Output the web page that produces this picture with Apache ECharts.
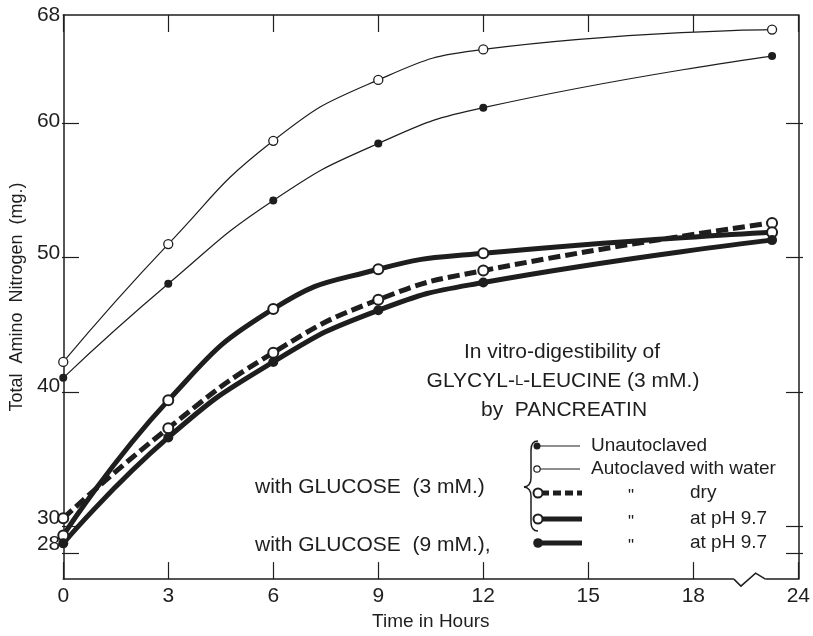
<!DOCTYPE html>
<html>
<head>
<meta charset="utf-8">
<script src="https://cdn.jsdelivr.net/npm/echarts@6/dist/echarts.min.js"></script>
<style>
  html, body { margin: 0; padding: 0; background: #fff; }
  #chart { width: 813px; height: 636px; }
</style>
</head>
<body>
<div id="chart"></div>
<script>
// sampling times (hours); the axis is broken between 18 and 24
var hours = [0, 3, 6, 9, 12, 22.5];
var unautoclaved = [40.6, 47.7, 54.0, 58.3, 61.0, 64.9];
var autoWater = [41.8, 50.7, 58.5, 63.1, 65.4, 66.9];
var autoDry = [30.0, 36.8, 42.5, 46.5, 48.7, 52.3];
var autoPh3 = [28.7, 38.9, 45.8, 48.8, 50.0, 51.6];
var autoPh9 = [28.1, 36.1, 41.8, 45.7, 47.8, 51.0];

var yLabels = [28, 30, 40, 50, 60, 68];
var yTicks = [28, 30, 40, 50, 60];
var yMin = 25.4, yMax = 68, xMax = 21;

// 18..24 h is squeezed into 18..21 on the drawn axis
function toAxis(h) { return h <= 18 ? h : 18 + (h - 18) / 2; }
function pts(vals) { return hours.map(function (h, i) { return [toAxis(h), vals[i]]; }); }

var ink = '#1e1e1e';
var font = 'Liberation Sans';
var tickLen = 17;
var G = { left: 62, top: 15, right: 10, bottom: 48 };

var mycharts = echarts.init(document.getElementById('chart'));

var thin = { color: ink, width: 1.2 };
var thick = { color: ink, width: 5 };

function brace(x1, y1, cx, cy, x2, y2) {
  return { type: 'bezierCurve', shape: { x1: x1, y1: y1, cpx1: cx, cpy1: cy, x2: x2, y2: y2 }, style: { stroke: ink, lineWidth: 1.5, fill: null } };
}
function seg(x1, y1, x2, y2, w, dash) {
  return { type: 'line', shape: { x1: x1, y1: y1, x2: x2, y2: y2 }, style: { stroke: ink, lineWidth: w, lineDash: dash || null } };
}
function label(x, y, text, size, align) {
  return { type: 'text', x: x, y: y, style: { text: text, font: size + 'px ' + font, fill: ink, align: align || 'left', verticalAlign: 'middle' } };
}

var xAxisBase = {
  type: 'value', min: 0, max: xMax, interval: 3,
  axisLine: { onZero: false, lineStyle: { color: ink, width: 1.5 } },
  axisTick: { show: true, inside: true, length: tickLen, lineStyle: { color: ink, width: 1.2 } },
  splitLine: { show: false }
};

var option = {
  backgroundColor: '#fff',
  animation: false,
  textStyle: { fontFamily: font, color: ink },
  grid: G,
  xAxis: [
    Object.assign({}, xAxisBase, {
      position: 'bottom',
      name: 'Time in Hours', nameLocation: 'middle', nameGap: 26,
      nameTextStyle: { fontSize: 19, color: ink, fontFamily: font },
      axisLabel: {
        fontSize: 21, color: ink, margin: 7, fontFamily: font,
        formatter: function (v) { return v === 21 ? '24' : String(v); }
      }
    }),
    Object.assign({}, xAxisBase, { position: 'top', axisLabel: { show: false } })
  ],
  yAxis: [{
    type: 'value', min: yMin, max: yMax, position: 'left',
    name: 'Total  Amino  Nitrogen  (mg.)', nameLocation: 'middle', nameGap: 34, nameRotate: 90,
    nameTextStyle: { fontSize: 18, color: ink, fontFamily: font },
    axisLine: { show: true, onZero: false, lineStyle: { color: ink, width: 1.5 } },
    axisTick: { show: false },
    axisLabel: { customValues: yLabels, fontSize: 21, color: ink, margin: 3, fontFamily: font },
    splitLine: { show: false }
  }, {
    type: 'value', min: yMin, max: yMax, position: 'right',
    axisLine: { show: true, onZero: false, lineStyle: { color: ink, width: 1.5 } },
    axisTick: { show: false },
    axisLabel: { show: false },
    splitLine: { show: false }
  }],
  series: [
    {
      name: 'Autoclaved with water', type: 'line', smooth: 0.5,
      data: pts(autoWater), lineStyle: thin,
      symbol: 'circle', symbolSize: 9, itemStyle: { color: '#fff', borderColor: ink, borderWidth: 1.3 }, z: 3
    },
    {
      name: 'Unautoclaved', type: 'line', smooth: 0.5,
      data: pts(unautoclaved), lineStyle: thin,
      symbol: 'circle', symbolSize: 8, itemStyle: { color: ink }, z: 3
    },
    {
      name: 'dry', type: 'line', smooth: 0.5,
      data: pts(autoDry), lineStyle: { color: ink, width: 5, type: [12, 5] },
      symbol: 'circle', symbolSize: 10, itemStyle: { color: '#fff', borderColor: ink, borderWidth: 2 }, z: 4
    },
    {
      name: 'at pH 9.7 (3 mM)', type: 'line', smooth: 0.5,
      data: pts(autoPh3), lineStyle: thick,
      symbol: 'circle', symbolSize: 10, itemStyle: { color: '#fff', borderColor: ink, borderWidth: 2 }, z: 4
    },
    {
      name: 'at pH 9.7 (9 mM)', type: 'line', smooth: 0.5,
      data: pts(autoPh9), lineStyle: thick,
      symbol: 'circle', symbolSize: 10, itemStyle: { color: ink }, z: 4
    },
    {
      // zigzag axis break drawn on the bottom axis
      type: 'custom', clip: false, silent: true, z: 5,
      data: [[19.16]],
      renderItem: function (params, api) {
        var a = api.coord([19.16, yMin]);
        var b = api.coord([19.36, yMin]);
        var c = api.coord([19.78, yMin]);
        var d = api.coord([20.06, yMin]);
        return {
          type: 'group',
          children: [
            { type: 'line', shape: { x1: a[0], y1: a[1], x2: d[0], y2: d[1] }, style: { stroke: '#fff', lineWidth: 4 } },
            { type: 'polyline', shape: { points: [a, [b[0], b[1] + 7], [c[0], c[1] - 6], d] },
              style: { stroke: ink, lineWidth: 1.5, fill: null } }
          ]
        };
      }
    }
  ]
};
mycharts.setOption(option);

// y ticks on both sides of the frame, from the grid box and the y range
var plotH = 636 - G.top - G.bottom;
var leftX = G.left, rightX = 813 - G.right;
var graphics = [];
yTicks.forEach(function (v) {
  var y = Math.round(G.top + (yMax - v) / (yMax - yMin) * plotH) + 0.5;
  graphics.push(seg(leftX, y, leftX + tickLen, y, 1.2));
  graphics.push(seg(rightX, y, rightX - tickLen, y, 1.2));
});

graphics = graphics.concat([
  label(562, 352, 'In vitro-digestibility of', 21, 'center'),
  { type: 'text', x: 563, y: 381, style: {
      text: '{a|GLYCYL-}{b|L}{a|-LEUCINE (3 mM.)}', align: 'center', verticalAlign: 'middle',
      rich: { a: { fontSize: 21, fontFamily: font, fill: ink }, b: { fontSize: 15, fontFamily: font, fill: ink } }
    } },
  label(564, 410, 'by  PANCREATIN', 21, 'center'),

  label(255, 487, 'with GLUCOSE  (3 mM.)', 21),
  label(255, 545, 'with GLUCOSE  (9 mM.),', 21),

  // brace
  brace(538, 441, 531, 441, 531, 450),
  seg(531, 450, 531, 478, 1.5),
  brace(531, 478, 531, 486, 524, 487),
  brace(524, 487, 531, 488, 531, 496),
  seg(531, 496, 531, 522, 1.5),
  brace(531, 522, 531, 531, 538, 531),

  // key samples
  seg(537, 446, 580, 446, 1.2),
  { type: 'circle', shape: { cx: 537, cy: 446, r: 3.5 }, style: { fill: ink } },
  seg(537, 469, 580, 469, 1.2),
  { type: 'circle', shape: { cx: 537, cy: 469, r: 3.2 }, style: { fill: '#fff', stroke: ink, lineWidth: 1.2 } },
  seg(541, 493, 582, 493, 5, [8, 4]),
  { type: 'circle', shape: { cx: 538, cy: 493, r: 4.5 }, style: { fill: '#fff', stroke: ink, lineWidth: 2 } },
  seg(541, 519, 582, 519, 5),
  { type: 'circle', shape: { cx: 538, cy: 519, r: 4.5 }, style: { fill: '#fff', stroke: ink, lineWidth: 2 } },
  seg(541, 543, 582, 543, 5),
  { type: 'circle', shape: { cx: 538, cy: 543, r: 4.8 }, style: { fill: ink } },

  label(591, 446, 'Unautoclaved', 19),
  label(591, 469, 'Autoclaved with water', 19),
  label(631, 496, '"', 17, 'center'),
  label(631, 522, '"', 17, 'center'),
  label(631, 546, '"', 17, 'center'),
  label(690, 493, 'dry', 19),
  label(690, 519, 'at pH 9.7', 19),
  label(690, 543, 'at pH 9.7', 19)
]);

mycharts.setOption({ graphic: graphics });
</script>
</body>
</html>
